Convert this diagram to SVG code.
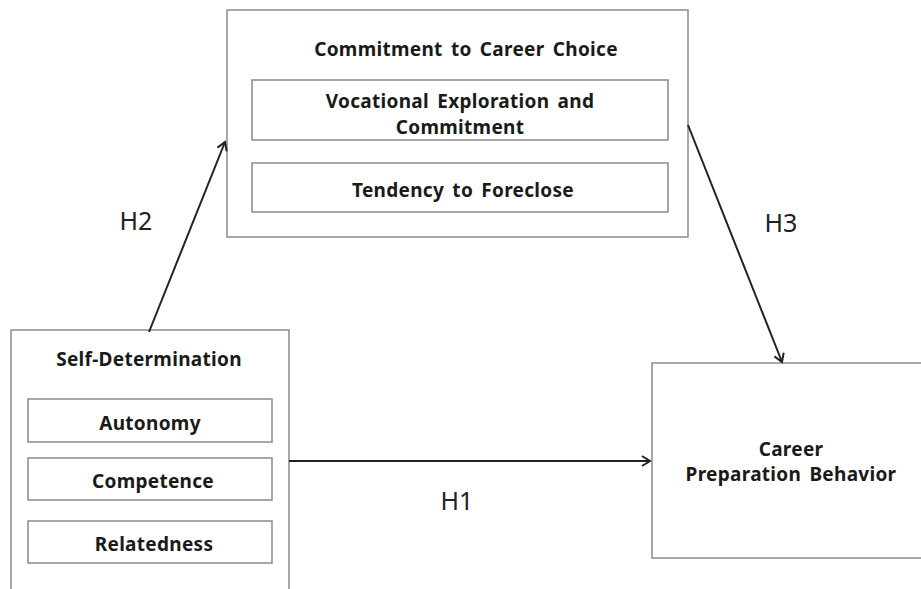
<svg xmlns="http://www.w3.org/2000/svg" width="921" height="589" viewBox="0 0 921 589">
<style>
.box{fill:#fff;stroke:#8a8a8a;stroke-width:1.5}
.t{font-family:"Noto Sans","Open Sans","DejaVu Sans",sans-serif;font-weight:bold;font-size:19px;letter-spacing:0.3px;word-spacing:3px;fill:#1a1a1a;text-anchor:middle}
.h{font-family:"Noto Sans","Open Sans","DejaVu Sans",sans-serif;font-size:25px;fill:#222;text-anchor:middle}
.c{stroke:#222;stroke-width:2;fill:none;marker-end:url(#arr)}
</style>
<defs>
<marker id="arr" markerWidth="12" markerHeight="12" refX="10" refY="6" orient="auto" markerUnits="userSpaceOnUse">
<path d="M2,1 L10,6 L2,11" fill="none" stroke="#222" stroke-width="2"/>
</marker>
</defs>
<rect width="921" height="589" fill="#fff"/>
<g id="commitment">
<rect class="box" x="227" y="10" width="461" height="227"/>
<text class="t" x="466" y="56">Commitment to Career Choice</text>
<g id="vocational">
<rect class="box" x="252" y="80" width="416" height="60"/>
<text class="t" x="460" y="108">Vocational Exploration and</text>
<text class="t" x="460" y="134">Commitment</text>
</g>
<g id="foreclose">
<rect class="box" x="252" y="163" width="416" height="49"/>
<text class="t" x="463" y="197">Tendency to Foreclose</text>
</g>
</g>
<g id="selfdet">
<rect class="box" x="11" y="330" width="278" height="270"/>
<text class="t" x="149" y="366">Self-Determination</text>
<g id="autonomy">
<rect class="box" x="28" y="399" width="244" height="43"/>
<text class="t" x="150" y="430">Autonomy</text>
</g>
<g id="competence">
<rect class="box" x="28" y="458" width="244" height="42"/>
<text class="t" x="153" y="488">Competence</text>
</g>
<g id="relatedness">
<rect class="box" x="28" y="521" width="244" height="42"/>
<text class="t" x="154" y="551">Relatedness</text>
</g>
</g>
<g id="career">
<rect class="box" x="652" y="363" width="280" height="195"/>
<text class="t" x="791" y="456">Career</text>
<text class="t" x="791" y="481">Preparation Behavior</text>
</g>
<g id="connectors">
<line class="c" x1="149" y1="332" x2="225" y2="142"/>
<line class="c" x1="688" y1="125" x2="782" y2="362"/>
<line class="c" x1="289" y1="461" x2="650" y2="461"/>
<text class="h" x="136" y="230">H2</text>
<text class="h" x="781" y="232">H3</text>
<text class="h" x="457" y="510">H1</text>
</g>
</svg>
